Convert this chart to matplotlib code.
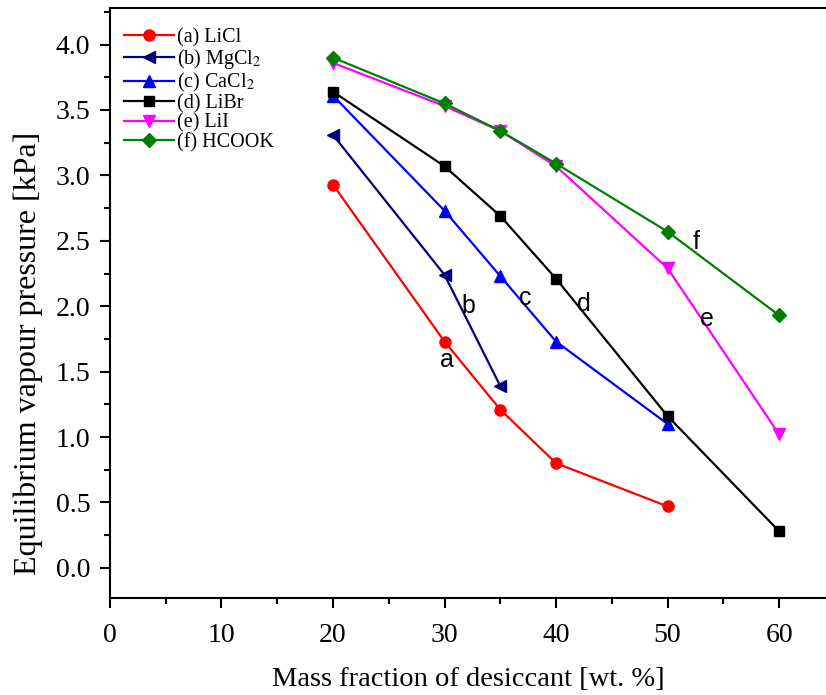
import matplotlib
matplotlib.use("Agg")
import matplotlib.pyplot as plt
from matplotlib.ticker import MultipleLocator

# mass fraction [wt. %]
x_licl = [20, 30, 35, 40, 50]
y_licl = [2.93, 1.73, 1.21, 0.80, 0.47]

x_mgcl2 = [20, 30, 35]
y_mgcl2 = [3.31, 2.24, 1.39]

x_cacl2 = [20, 30, 35, 40, 50]
y_cacl2 = [3.61, 2.73, 2.23, 1.73, 1.10]

x_libr = [20, 30, 35, 40, 50, 60]
y_libr = [3.64, 3.07, 2.69, 2.21, 1.16, 0.28]

x_lii = [20, 30, 35, 40, 50, 60]
y_lii = [3.86, 3.53, 3.34, 3.07, 2.29, 1.02]

x_hcook = [20, 30, 35, 40, 50, 60]
y_hcook = [3.90, 3.55, 3.34, 3.09, 2.57, 1.93]

curve_letters = ['a', 'b', 'c', 'd', 'e', 'f']
letter_x = [30.2, 32.1, 37.2, 42.5, 53.5, 52.6]
letter_y = [1.59, 2.00, 2.06, 2.02, 1.90, 2.49]

serif = ['Liberation Serif', 'DejaVu Serif']
plt.rcParams['font.family'] = serif
plt.rcParams['mathtext.fontset'] = 'stix'

fig = plt.figure(figsize=(8.26, 6.95), dpi=100)
ax = fig.add_axes([0.133, 0.1396, 0.867, 0.849])

lw = 1.6
ms = 8
ax.plot(x_licl, y_licl, color='#ff0000', marker='o', lw=lw, ms=ms, label='(a) LiCl')
ax.plot(x_mgcl2, y_mgcl2, color='#000080', marker='<', lw=lw, ms=ms + 1, label='(b) MgCl$_2$')
ax.plot(x_cacl2, y_cacl2, color='#0000ff', marker='^', lw=lw, ms=ms + 1, label='(c) CaCl$_2$')
ax.plot(x_libr, y_libr, color='black', marker='s', lw=lw, ms=ms - 1, label='(d) LiBr')
ax.plot(x_lii, y_lii, color='#ff00ff', marker='v', lw=lw, ms=ms + 1, label='(e) LiI')
ax.plot(x_hcook, y_hcook, color='#008000', marker='D', lw=lw, ms=ms - 1, label='(f) HCOOK')

for t, tx, ty in zip(curve_letters, letter_x, letter_y):
    ax.text(tx, ty, t, fontsize=18, family=['Liberation Sans', 'DejaVu Sans'],
            ha='center', va='center')

ax.set_xlim(0, 64.2)
ax.set_ylim(-0.23, 4.28)
ax.xaxis.set_major_locator(MultipleLocator(10))
ax.xaxis.set_minor_locator(MultipleLocator(5))
ax.yaxis.set_major_locator(MultipleLocator(0.5))
ax.yaxis.set_minor_locator(MultipleLocator(0.25))
ax.yaxis.set_major_formatter(plt.FormatStrFormatter('%.1f'))
ax.tick_params(which='major', direction='out', length=7, width=1.5, labelsize=20)
ax.tick_params(which='minor', direction='out', length=4, width=1.5)
ax.tick_params(axis='x', pad=11)
ax.tick_params(axis='y', pad=7)
for s in ['left', 'bottom', 'top']:
    ax.spines[s].set_linewidth(1.5)
ax.spines['right'].set_visible(False)

ax.set_xlabel('Mass fraction of desiccant [wt. %]', fontsize=20.5, labelpad=14)
ax.set_ylabel('Equilibrium vapour pressure [kPa]', fontsize=23)
ax.yaxis.set_label_coords(-0.094, 0.415)

ax.legend(loc='upper left', frameon=False, fontsize=14.5, handlelength=2.5,
          handletextpad=0.15, labelspacing=0.0, borderaxespad=0.3,
          bbox_to_anchor=(0.0, 0.99))

fig.savefig('out.png', dpi=100)
